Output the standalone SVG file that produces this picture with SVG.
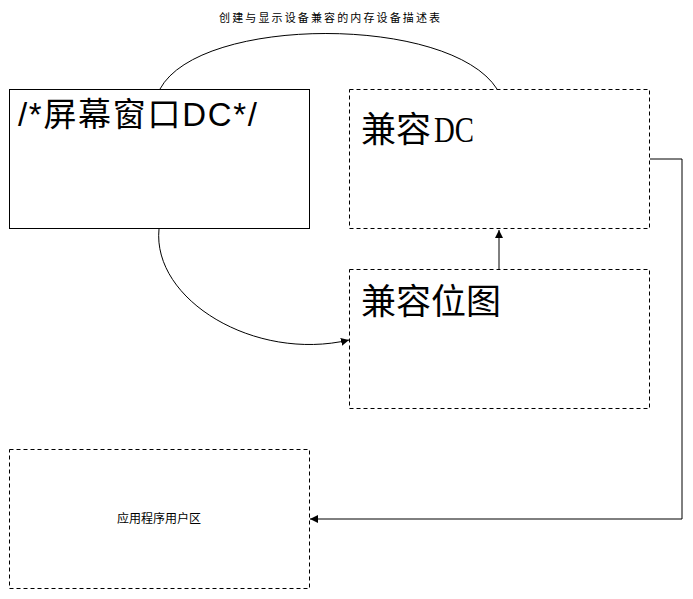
<svg xmlns="http://www.w3.org/2000/svg" width="693" height="599" viewBox="0 0 693 599">
<style>
.box{fill:#fff;stroke:#000;stroke-width:1}
.dash{stroke-dasharray:4 3}
.ln{fill:none;stroke:#000;stroke-width:1}
.cjk{font-family:"Noto Sans CJK SC",sans-serif;fill:#000}
.sans{font-family:"Liberation Sans","Noto Sans CJK SC",sans-serif;fill:#000}
.serif{font-family:"Liberation Serif","Noto Sans CJK SC",serif;fill:#000}
</style>
<defs>
<marker id="arr" viewBox="0 0 10 10" refX="10" refY="5" markerWidth="8" markerHeight="8" markerUnits="userSpaceOnUse" orient="auto">
<path d="M0,0 L10,5 L0,10 z" fill="#000"/>
</marker>
</defs>
<rect width="693" height="599" fill="#fff"/>
<g id="connectors">
<path class="ln" d="M160,89 C200,15 450,15 497,89"/>
<path class="ln" d="M159,229 C152,300 255,362 349,340" marker-end="url(#arr)"/>
<path class="ln" d="M499,269 L499,230" marker-end="url(#arr)"/>
<path class="ln" d="M650,159 L682,159 L682,519 L310,519" marker-end="url(#arr)"/>
</g>
<text class="cjk" x="219" y="22" font-size="11" textLength="221" lengthAdjust="spacing">创建与显示设备兼容的内存设备描述表</text>
<g id="screen-dc">
<rect class="box" x="9.5" y="89.5" width="300" height="139"/>
<text class="sans" x="18" y="126" font-size="33" textLength="239" lengthAdjust="spacing">/*屏幕窗口DC*/</text>
</g>
<g id="compat-dc">
<rect class="box dash" x="349.5" y="89.5" width="300" height="139"/>
<text class="serif" y="142" font-size="35"><tspan class="cjk" x="361">兼容</tspan><tspan x="434" textLength="40" lengthAdjust="spacingAndGlyphs">DC</tspan></text>
</g>
<g id="compat-bitmap">
<rect class="box dash" x="349.5" y="269.5" width="300" height="139"/>
<text class="cjk" x="361" y="314" font-size="35">兼容位图</text>
</g>
<g id="user-area">
<rect class="box dash" x="9.5" y="449.5" width="300" height="139"/>
<text class="cjk" x="159" y="523" font-size="12" text-anchor="middle">应用程序用户区</text>
</g>
</svg>
